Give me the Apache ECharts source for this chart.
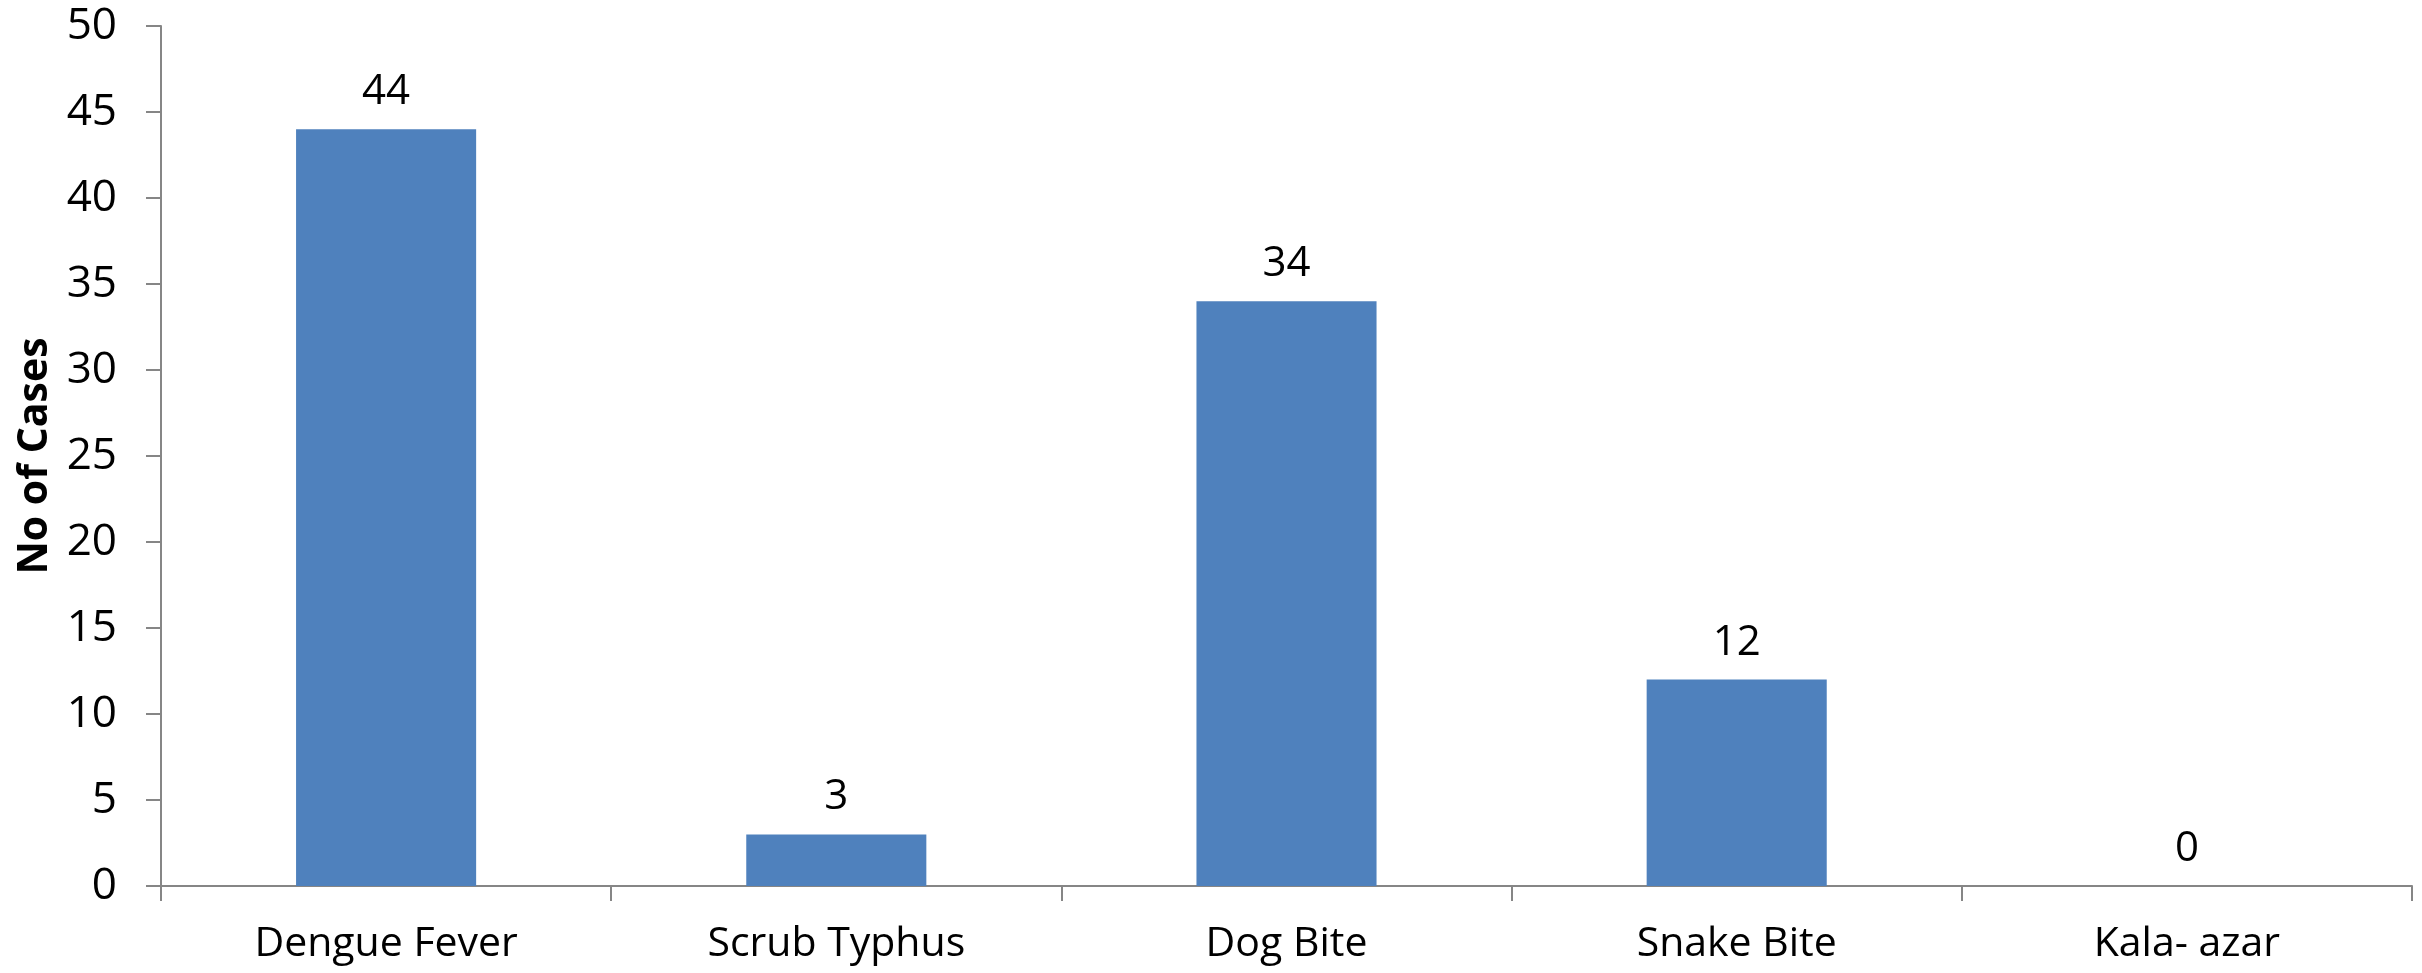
<!DOCTYPE html>
<html><head><meta charset="utf-8">
<script src="https://cdn.jsdelivr.net/npm/echarts@6/dist/echarts.min.js"></script>
<style>html,body{margin:0;padding:0;background:#fff}#c{width:2422px;height:973px}</style>
</head><body><div id="c"></div>
<script>
const categories = ['Dengue Fever', 'Scrub Typhus', 'Dog Bite', 'Snake Bite', 'Kala- azar'];
const cases = [44, 3, 34, 12, 0];
const yTicks = [0, 5, 10, 15, 20, 25, 30, 35, 40, 45, 50];

const chart = echarts.init(document.getElementById('c'));
const FONT = '"Open Sans", "Noto Sans", sans-serif';
chart.setOption({
  animation: false,
  grid: { left: 161, right: 10, top: 26, bottom: 87, containLabel: false, outerBoundsMode: 'none' },
  xAxis: {
    type: 'category', data: categories, boundaryGap: true,
    axisLine: { lineStyle: { color: '#868686', width: 2 } },
    axisTick: { show: true, length: 15, lineStyle: { color: '#868686', width: 2 } },
    axisLabel: { color: '#000', fontFamily: FONT, fontSize: 41, margin: 38 }
  },
  yAxis: {
    type: 'value', min: yTicks[0], max: yTicks[yTicks.length - 1], interval: 5,
    name: 'No of Cases', nameLocation: 'middle', nameGap: 104, nameRotate: 90,
    nameTextStyle: { color: '#000', fontFamily: FONT, fontSize: 41, fontWeight: 'bold' },
    axisLine: { show: true, lineStyle: { color: '#868686', width: 2 } },
    axisTick: { show: true, length: 15, lineStyle: { color: '#868686', width: 2 } },
    splitLine: { show: false },
    axisLabel: { color: '#000', fontFamily: FONT, fontSize: 44, margin: 44 }
  },
  series: [{
    type: 'bar', data: cases, barWidth: '40%',
    itemStyle: { color: '#4F81BD' },
    label: { show: true, position: 'top', distance: 16, color: '#000', fontFamily: FONT, fontSize: 42 }
  }]
});
</script></body></html>
